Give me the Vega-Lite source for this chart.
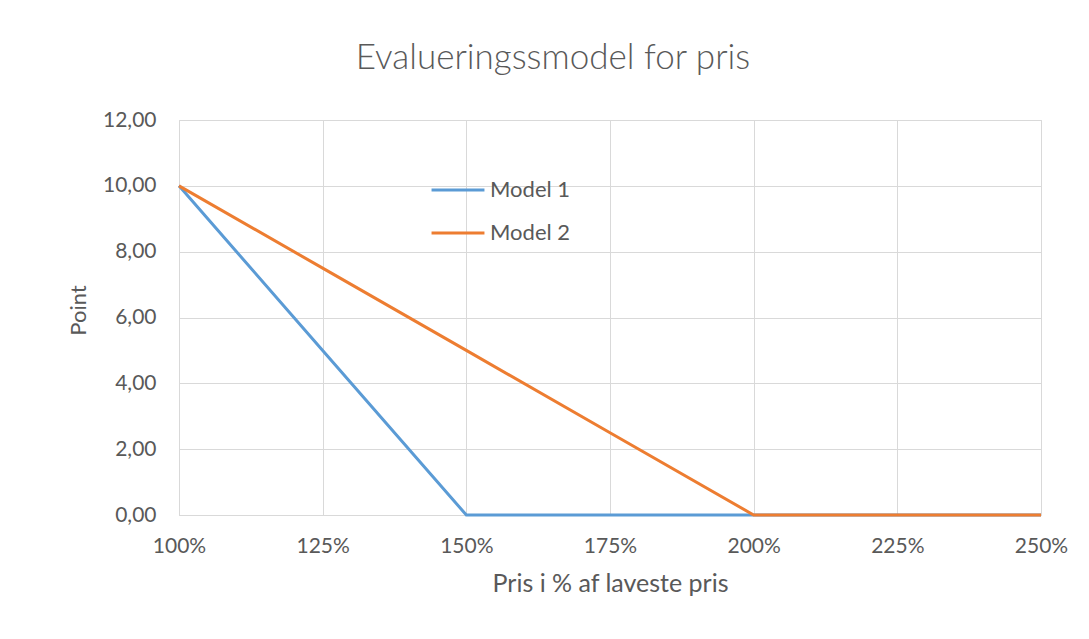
{
  "$schema": "https://vega.github.io/schema/vega-lite/v6.json",
  "autosize": "none",
  "width": 862,
  "height": 395,
  "padding": {"left": 179, "top": 120, "right": 48, "bottom": 124},
  "background": "white",
  "title": {
    "text": "Evalueringssmodel for pris",
    "anchor": "middle",
    "frame": "group",
    "dx": -57,
    "offset": 33,
    "font": "Lato",
    "fontSize": 35,
    "fontWeight": 300,
    "color": "#595959"
  },
  "data": {
    "values": [
      {"pris": 1.0, "point": 10, "model": "Model 1"},
      {"pris": 1.25, "point": 5, "model": "Model 1"},
      {"pris": 1.5, "point": 0, "model": "Model 1"},
      {"pris": 1.75, "point": 0, "model": "Model 1"},
      {"pris": 2.0, "point": 0, "model": "Model 1"},
      {"pris": 2.25, "point": 0, "model": "Model 1"},
      {"pris": 2.5, "point": 0, "model": "Model 1"},
      {"pris": 1.0, "point": 10, "model": "Model 2"},
      {"pris": 1.25, "point": 7.5, "model": "Model 2"},
      {"pris": 1.5, "point": 5, "model": "Model 2"},
      {"pris": 1.75, "point": 2.5, "model": "Model 2"},
      {"pris": 2.0, "point": 0, "model": "Model 2"},
      {"pris": 2.25, "point": 0, "model": "Model 2"},
      {"pris": 2.5, "point": 0, "model": "Model 2"}
    ]
  },
  "mark": {"type": "line", "strokeWidth": 3, "strokeCap": "butt"},
  "encoding": {
    "x": {
      "field": "pris",
      "type": "quantitative",
      "scale": {"domain": [1, 2.5], "nice": false, "zero": false},
      "axis": {
        "title": "Pris i % af laveste pris",
        "values": [1, 1.25, 1.5, 1.75, 2, 2.25, 2.5],
        "format": ".0%",
        "labelFlush": false,
        "labelPadding": 20,
        "titlePadding": 15,
        "titleFontSize": 25,
        "ticks": false,
        "domainColor": "#d9d9d9",
        "gridColor": "#d9d9d9"
      }
    },
    "y": {
      "field": "point",
      "type": "quantitative",
      "scale": {"domain": [0, 12], "nice": false},
      "axis": {
        "title": "Point",
        "values": [0, 2, 4, 6, 8, 10, 12],
        "labelExpr": "replace(format(datum.value, '.2f'), '.', ',')",
        "labelPadding": 23,
        "titlePadding": 12,
        "titleFontSize": 22,
        "titleY": 190,
        "ticks": false,
        "domain": false,
        "gridColor": "#d9d9d9"
      }
    },
    "color": {
      "field": "model",
      "type": "nominal",
      "scale": {"domain": ["Model 1", "Model 2"], "range": ["#5B9BD5", "#ED7D31"]},
      "legend": {
        "title": null,
        "orient": "none",
        "legendX": 251,
        "legendY": 42,
        "symbolType": "stroke",
        "symbolSize": 2800,
        "symbolStrokeWidth": 3,
        "labelOffset": 4,
        "rowPadding": 4,
        "labelFont": "Lato",
        "labelFontSize": 22,
        "labelColor": "#595959"
      }
    }
  },
  "config": {
    "view": {"stroke": "#d9d9d9"},
    "axis": {
      "labelFont": "Lato",
      "labelFontSize": 21,
      "labelColor": "#595959",
      "titleFont": "Lato",
      "titleFontWeight": "normal",
      "titleColor": "#595959",
      "gridWidth": 1
    }
  }
}
